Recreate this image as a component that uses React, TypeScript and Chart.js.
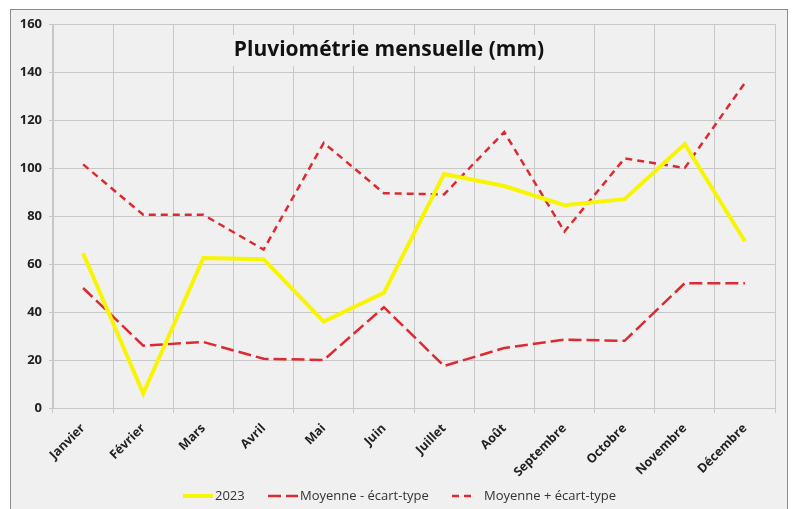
import React, { useEffect, useRef } from "react";
import { Chart, registerables } from "chart.js";

Chart.register(...registerables);

const months = ["Janvier", "Février", "Mars", "Avril", "Mai", "Juin", "Juillet", "Août", "Septembre", "Octobre", "Novembre", "Décembre"];
const rain2023 = [64.5, 6, 62.5, 62, 36, 48, 97.5, 92.5, 84.5, 87, 110, 69.5];
const meanMinusSd = [50, 26, 27.5, 20.5, 20, 42, 17.5, 25, 28.5, 28, 52, 52];
const meanPlusSd = [101.5, 80.5, 80.5, 66, 110.5, 89.5, 89, 115, 73.5, 104, 100, 135.5];
const yTicks = [0, 20, 40, 60, 80, 100, 120, 140, 160];
const titleText = "Pluviométrie mensuelle (mm)";
const seriesNames = ["2023", "Moyenne - écart-type", "Moyenne + écart-type"];

const FONT = "'Open Sans', sans-serif";
const YELLOW = "#f8f500";
const RED = "#dc2a30";
const BG = "#f0f0f0";

export default function App() {
  const ref = useRef<HTMLCanvasElement | null>(null);

  useEffect(() => {
    if (!ref.current) return;
    const framePlugin = {
      id: "frame",
      beforeDraw(chart: any) {
        const ctx = chart.ctx;
        ctx.save();
        ctx.fillStyle = "#ffffff";
        ctx.fillRect(0, 0, chart.width, chart.height);
        ctx.fillStyle = BG;
        ctx.fillRect(10.5, 9.5, 777, chart.height);
        ctx.strokeStyle = "#8c8c8c";
        ctx.lineWidth = 1;
        ctx.strokeRect(10.5, 9.5, 777, chart.height + 5);
        ctx.restore();
      },
      afterDraw(chart: any) {
        const ctx = chart.ctx;
        ctx.save();
        // title
        ctx.font = `bold 21px ${FONT}`;
        const tw = ctx.measureText(titleText).width;
        const cx = 389;
        const cy = 50;
        ctx.fillStyle = BG;
        ctx.fillRect(cx - tw / 2 - 7, cy - 15, tw + 14, 31);
        ctx.fillStyle = "#111111";
        ctx.textAlign = "center";
        ctx.textBaseline = "middle";
        ctx.fillText(titleText, cx, cy);
        // legend
        const ly = 496;
        const items = [
          { x: 183, w: 30, color: YELLOW, lw: 4, dash: [] as number[], text: seriesNames[0] },
          { x: 268, w: 30, color: RED, lw: 2.5, dash: [13, 5], text: seriesNames[1] },
          { x: 452, w: 24, color: RED, lw: 2.5, dash: [7, 5], text: seriesNames[2] },
        ];
        ctx.font = `13px ${FONT}`;
        ctx.textAlign = "left";
        for (const it of items) {
          ctx.beginPath();
          ctx.setLineDash(it.dash);
          ctx.strokeStyle = it.color;
          ctx.lineWidth = it.lw;
          ctx.moveTo(it.x, ly);
          ctx.lineTo(it.x + it.w, ly);
          ctx.stroke();
          ctx.setLineDash([]);
          ctx.fillStyle = "#333333";
          ctx.fillText(it.text, it.x + it.w + (it === items[2] ? 8 : 2), ly);
        }
        ctx.restore();
      },
    };

    const chart = new Chart(ref.current, {
      type: "line",
      data: {
        labels: months,
        datasets: [
          {
            label: seriesNames[0],
            data: rain2023,
            borderColor: YELLOW,
            borderWidth: 4,
            pointRadius: 0,
            tension: 0,
          },
          {
            label: seriesNames[1],
            data: meanMinusSd,
            borderColor: RED,
            borderWidth: 2.5,
            borderDash: [13, 5],
            pointRadius: 0,
            tension: 0,
          },
          {
            label: seriesNames[2],
            data: meanPlusSd,
            borderColor: RED,
            borderWidth: 2.5,
            borderDash: [7, 5],
            pointRadius: 0,
            tension: 0,
          },
        ],
      },
      options: {
        responsive: false,
        animation: false,
        layout: { padding: { left: 10, top: 24, right: 17, bottom: 0 } },
        plugins: {
          legend: { display: false },
          title: { display: false },
          tooltip: { enabled: false },
        },
        scales: {
          x: {
            offset: true,
            grid: { offset: true, color: "#c8c8c8", lineWidth: 1, tickLength: 5, drawTicks: true },
            border: { color: "#c8c8c8" },
            ticks: {
              minRotation: 45,
              maxRotation: 45,
              autoSkip: false,
              padding: 8,
              color: "#222222",
              font: { family: FONT, size: 12.5, weight: "bold" },
            },
            afterFit(scale: any) {
              scale.height = 101;
            },
          },
          y: {
            min: 0,
            max: 160,
            afterBuildTicks(scale: any) {
              scale.ticks = yTicks.map((v) => ({ value: v }));
            },
            grid: { color: "#c8c8c8", lineWidth: 1, tickLength: 4 },
            border: { color: "#c8c8c8" },
            ticks: {
              padding: 7,
              color: "#222222",
              font: { family: FONT, size: 13, weight: "bold" },
            },
            afterFit(scale: any) {
              scale.width = 43;
            },
          },
        },
      },
      plugins: [framePlugin],
    } as any);
    return () => chart.destroy();
  }, []);

  return (
    <div style={{ position: "fixed", left: 0, top: 0, width: 792, height: 509 }}>
      <canvas ref={ref} width={792} height={509} style={{ display: "block" }} />
    </div>
  );
}
